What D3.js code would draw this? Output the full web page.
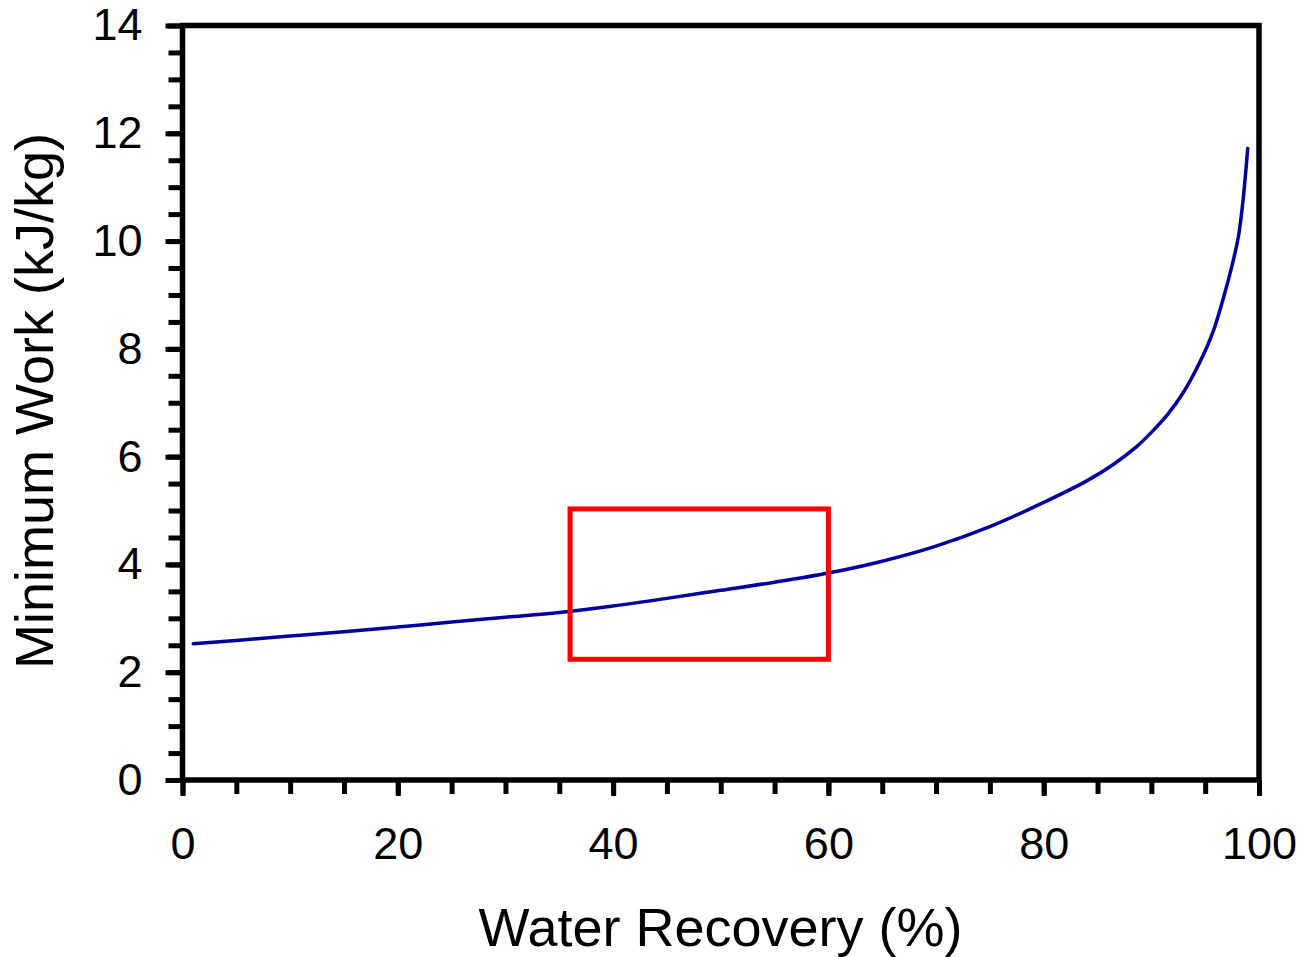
<!DOCTYPE html>
<html lang="en">
<head>
    <meta charset="UTF-8">
    <title>Minimum Work vs Water Recovery</title>
    <style>
        body { margin: 0; background: #fff; }
        svg text { font-family: 'Liberation Sans', Arial, sans-serif; fill: #000; }
        .axis path { display: none; }
        .axis line { stroke: #000; stroke-width: 5; }
        .axis text { font-size: 45px; }
    </style>
    <script src="https://d3js.org/d3.v7.min.js"></script>
</head>
<body>
    <svg id="chart" width="1304" height="957"></svg>
    <script>
        // Curve: water recovery (%) -> minimum work (kJ/kg)
        const recovery = [1, 5, 10, 15, 20, 25, 30, 35, 40, 45, 50, 55, 60, 65, 70, 75, 80, 84, 86.5, 88.6, 90, 91.5, 93, 94.5, 95.7, 96.7, 97.5, 98.1, 98.55, 98.95];
        const work = [2.53, 2.59, 2.67, 2.75, 2.84, 2.93, 3.02, 3.11, 3.23, 3.37, 3.52, 3.67, 3.84, 4.06, 4.34, 4.70, 5.15, 5.55, 5.86, 6.18, 6.45, 6.78, 7.20, 7.75, 8.30, 8.95, 9.55, 10.10, 10.82, 11.72];

        const xTicks = [0, 20, 40, 60, 80, 100];
        const yTicks = [0, 2, 4, 6, 8, 10, 12, 14];

        // highlighted region (red box): [x0, x1], [y0, y1]
        const boxX = [36, 60];
        const boxY = [2.24, 5.03];

        const svg = d3.select("#chart");
        const margin = { top: 25.5, right: 45, bottom: 177, left: 182.5 };
        const width = 1304 - margin.left - margin.right;
        const height = 957 - margin.top - margin.bottom;

        const x = d3.scaleLinear().domain([0, 100]).range([0, width]);
        const y = d3.scaleLinear().domain([0, 14]).range([height, 0]);

        const g = svg.append("g").attr("transform", `translate(${margin.left},${margin.top})`);

        // minor ticks
        g.append("g")
            .attr("class", "axis")
            .attr("transform", `translate(0,${height})`)
            .call(d3.axisBottom(x).tickValues(d3.range(0, 101, 5)).tickSize(14).tickFormat(""));
        g.append("g")
            .attr("class", "axis")
            .call(d3.axisLeft(y).tickValues(d3.range(0, 14.01, 0.5)).tickSize(14).tickFormat(""));

        // major ticks with labels
        const xAxis = g.append("g")
            .attr("class", "axis")
            .attr("transform", `translate(0,${height})`)
            .call(d3.axisBottom(x).tickValues(xTicks).tickSize(16));
        xAxis.selectAll("text").attr("y", 47);

        const yAxis = g.append("g")
            .attr("class", "axis")
            .call(d3.axisLeft(y).tickValues(yTicks).tickSize(17));
        yAxis.selectAll("text").attr("x", -40);

        // frame
        g.append("rect")
            .attr("width", width)
            .attr("height", height)
            .attr("fill", "none")
            .attr("stroke", "#000")
            .attr("stroke-width", 5.5);

        // curve
        const line = d3.line()
            .x((d, i) => x(recovery[i]))
            .y(d => y(d))
            .curve(d3.curveCatmullRom.alpha(0.5));

        g.append("path")
            .datum(work)
            .attr("d", line)
            .attr("fill", "none")
            .attr("stroke", "#0000a0")
            .attr("stroke-width", 3.5)
            .attr("stroke-linecap", "round");

        // red box
        g.append("rect")
            .attr("x", x(boxX[0]))
            .attr("y", y(boxY[1]))
            .attr("width", x(boxX[1]) - x(boxX[0]))
            .attr("height", y(boxY[0]) - y(boxY[1]))
            .attr("fill", "none")
            .attr("stroke", "#ff0000")
            .attr("stroke-width", 5);

        // axis titles
        svg.append("text")
            .attr("x", 720.5)
            .attr("y", 946)
            .attr("text-anchor", "middle")
            .style("font-size", "54px")
            .text("Water Recovery (%)");

        svg.append("text")
            .attr("transform", "rotate(-90)")
            .attr("x", -401)
            .attr("y", 53)
            .attr("text-anchor", "middle")
            .style("font-size", "54px")
            .text("Minimum Work (kJ/kg)");
    </script>
</body>
</html>
